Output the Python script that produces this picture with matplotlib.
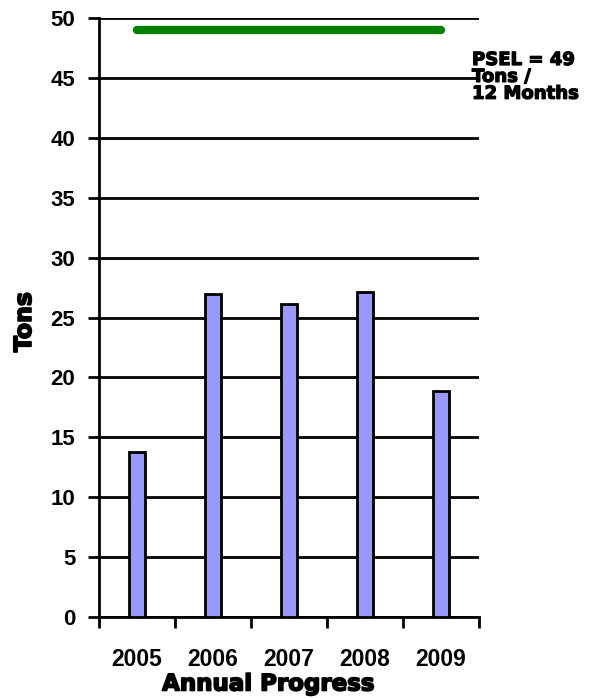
import matplotlib
matplotlib.use("Agg")
import matplotlib.pyplot as plt
import matplotlib.patheffects as pe
import numpy as np

years = ["2005", "2006", "2007", "2008", "2009"]
tons = [13.8, 27.0, 26.15, 27.1, 18.85]
psel = 49
psel_label = "PSEL = 49\nTons /\n12 Months"
yticks = [0, 5, 10, 15, 20, 25, 30, 35, 40, 45, 50]

plt.rcParams['font.family'] = ['Liberation Sans', 'DejaVu Sans']

fig = plt.figure(figsize=(6.0, 6.98), dpi=100)
ax = fig.add_axes([99/600, 1-617/698, 380/600, 599/698])

x = np.arange(len(years))
ax.bar(x, tons, width=0.2, color="#9999ff", edgecolor="black", linewidth=2, zorder=3)
ax.plot([x[0], x[-1]], [psel, psel], color="#008000", linewidth=6, solid_capstyle="round", zorder=4)

ax.set_xlim(-0.5, len(years) - 0.5)
ax.set_ylim(0, 50)
ax.set_yticks(yticks)
ax.set_yticklabels([str(v) for v in yticks], fontsize=16, fontweight="bold")
ax.yaxis.grid(True, color="black", linewidth=2)
ax.set_axisbelow(True)

ax.set_xticks(np.arange(len(years) + 1) - 0.5)
ax.set_xticklabels([])
ax.set_xticks(x, minor=True)
ax.set_xticklabels(years, minor=True, fontsize=16.5, fontweight="bold")
ax.tick_params(axis="x", which="major", length=8, width=2, direction="out")
ax.tick_params(axis="x", which="minor", length=0, pad=22)
ax.tick_params(axis="y", length=8, width=2, direction="out", pad=9)

for s in ["top", "right"]:
    ax.spines[s].set_visible(False)
ax.spines["left"].set_linewidth(2)
ax.spines["bottom"].set_linewidth(2)

heavy = [pe.withStroke(linewidth=1.2, foreground="black")]
fig.text(24/600, 1 - 322/698, "Tons", rotation=90, ha="center", va="center",
         fontsize=17, fontweight="bold", family="DejaVu Sans", path_effects=heavy)
fig.text(268/600, 1 - 684/698, "Annual Progress", ha="center", va="center",
         fontsize=16.5, fontweight="bold", family="DejaVu Sans", path_effects=heavy)
fig.text(472/600, 1 - 51/698, psel_label, ha="left", va="top", fontsize=13,
         fontweight="bold", family="DejaVu Sans", linespacing=0.92,
         path_effects=[pe.withStroke(linewidth=0.9, foreground="black")])

fig.savefig("out.png", dpi=100)
